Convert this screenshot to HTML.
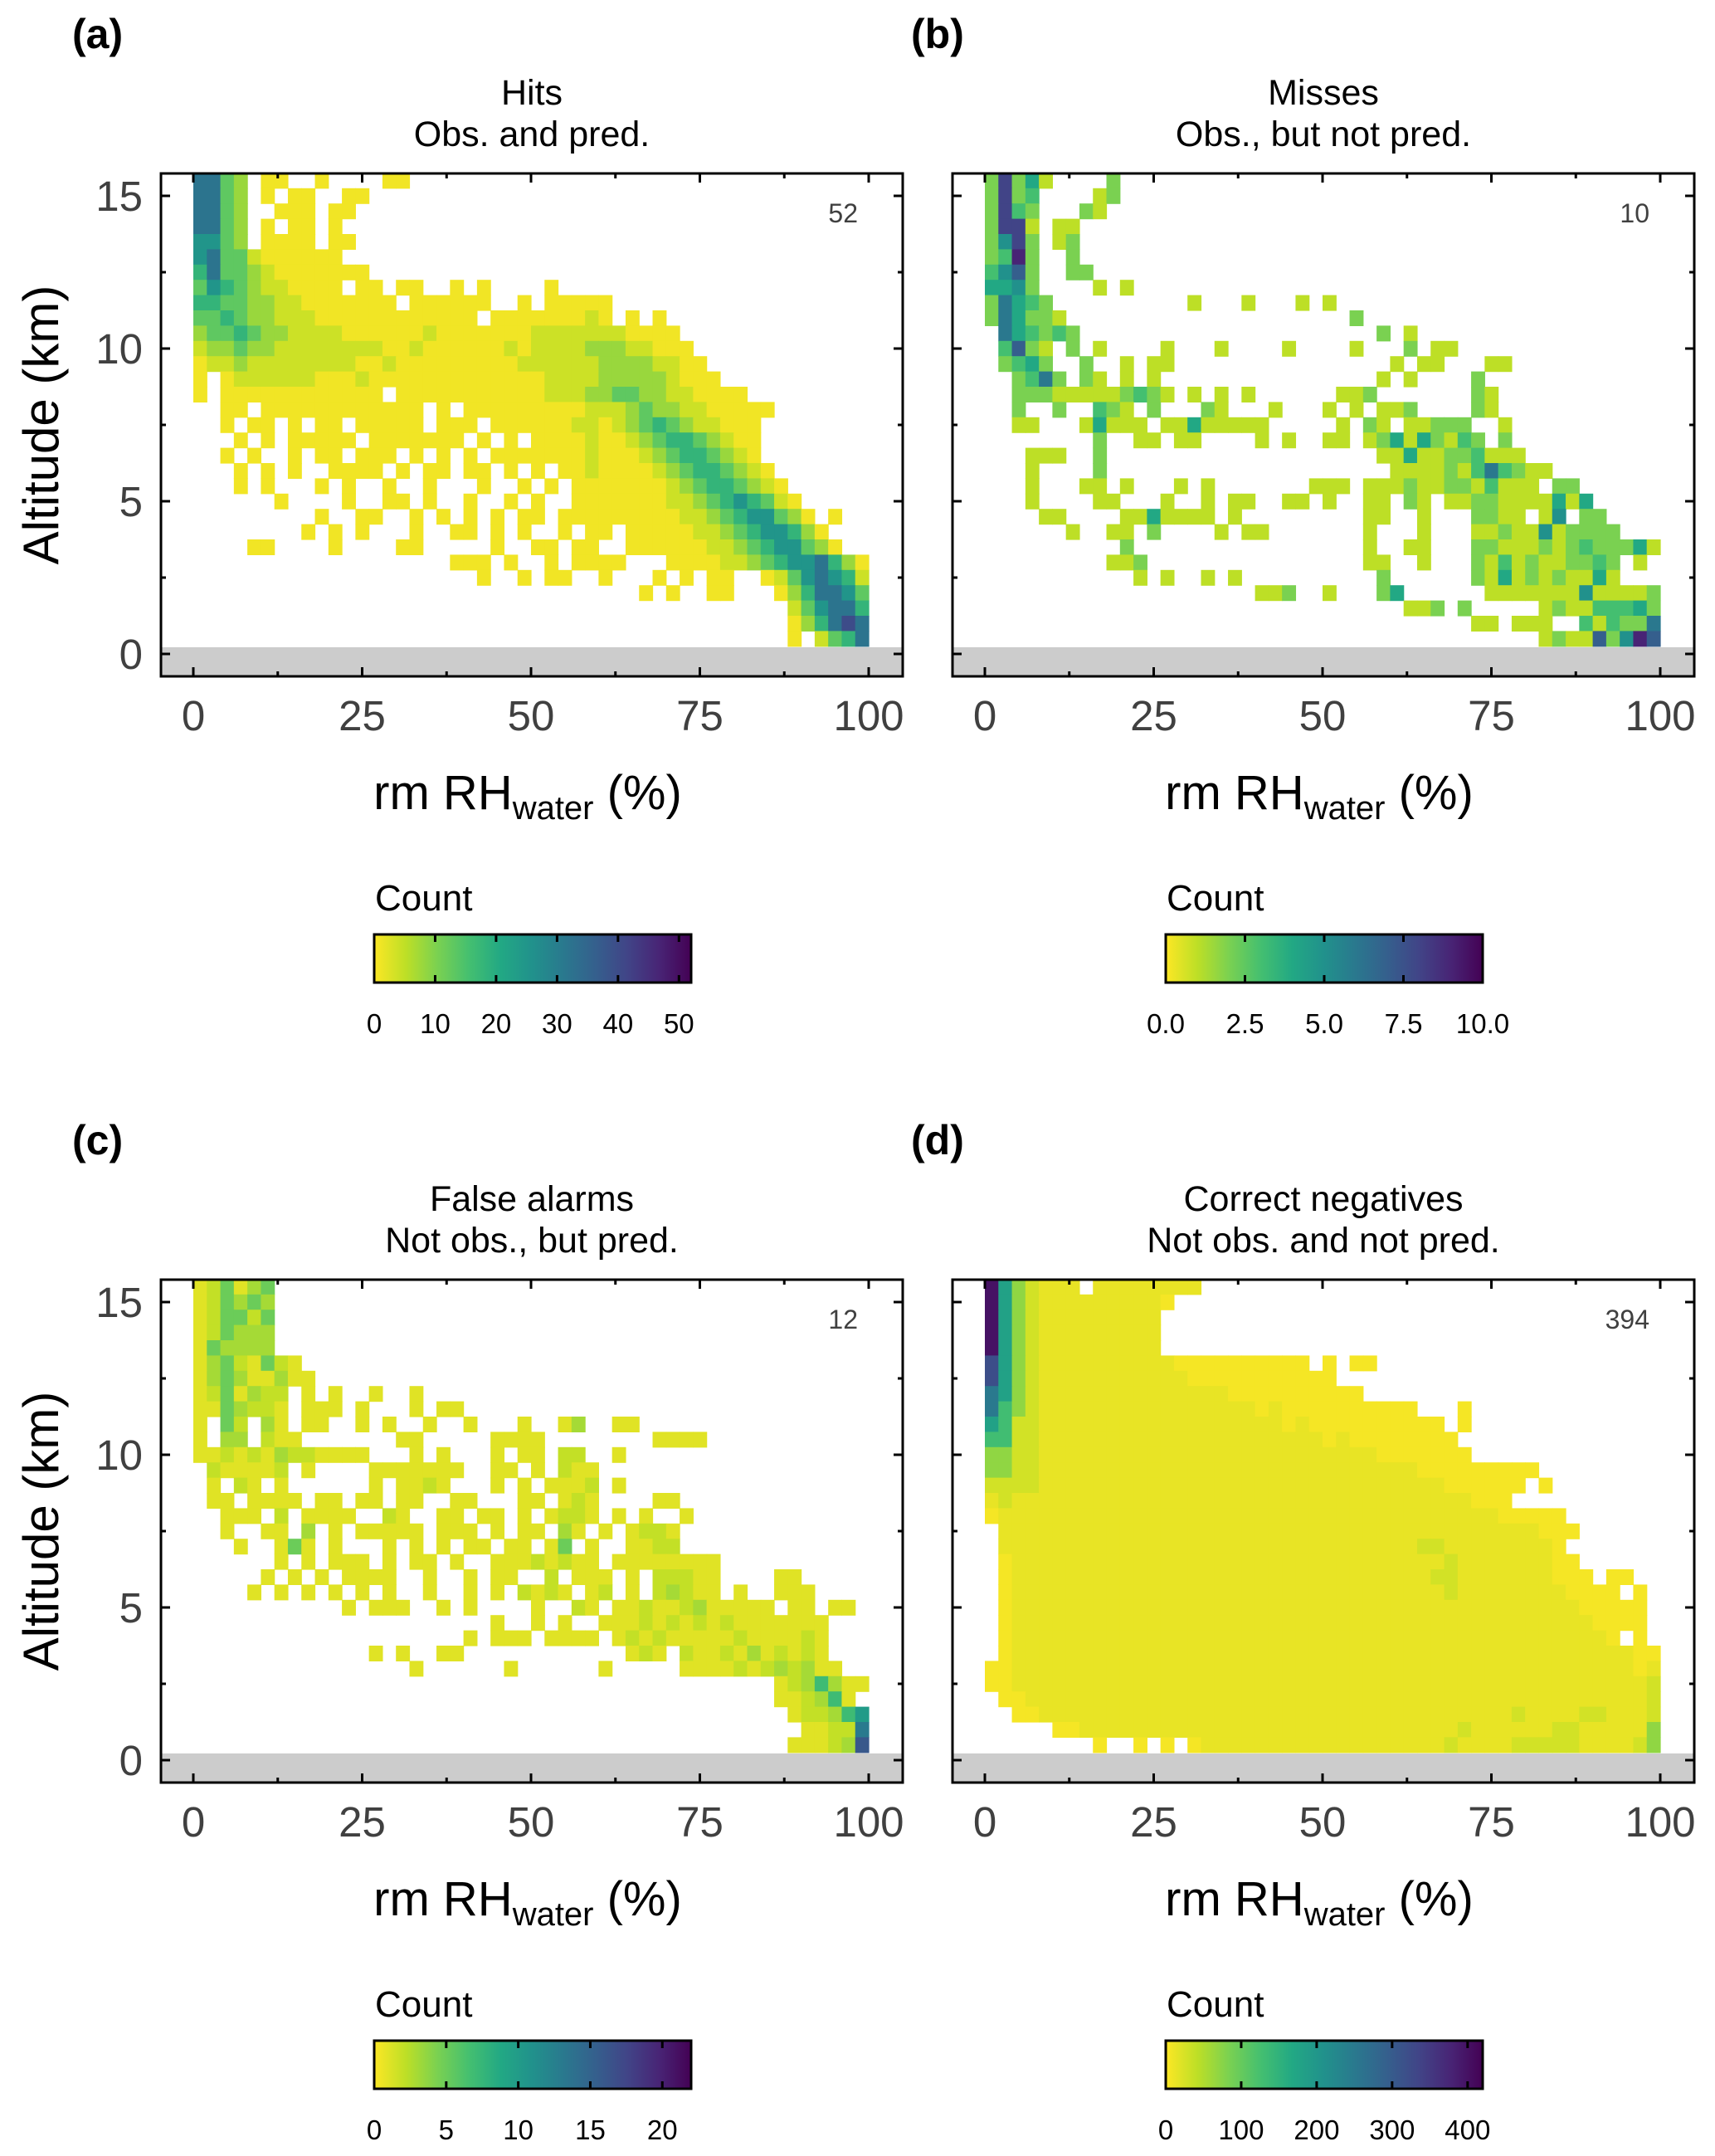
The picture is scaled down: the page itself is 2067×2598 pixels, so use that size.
<!DOCTYPE html>
<html><head><meta charset="utf-8"><title>Contingency heatmaps</title>
<style>
html,body{margin:0;padding:0;background:#fff;}
svg{display:block;font-family:"Liberation Sans",Arial,sans-serif;}
</style></head>
<body>
<svg id="fig" xmlns="http://www.w3.org/2000/svg" width="2067" height="2598" viewBox="0 0 2067 2598">
<defs>
<linearGradient id="vir" x1="0" x2="1" y1="0" y2="0">
<stop offset="0" stop-color="#fde725"/><stop offset="0.1" stop-color="#bddf26"/><stop offset="0.2" stop-color="#7ad151"/><stop offset="0.3" stop-color="#44bf70"/><stop offset="0.4" stop-color="#22a884"/><stop offset="0.5" stop-color="#21918c"/><stop offset="0.6" stop-color="#2a788e"/><stop offset="0.7" stop-color="#355f8d"/><stop offset="0.8" stop-color="#414487"/><stop offset="0.9" stop-color="#482475"/><stop offset="1" stop-color="#440154"/>
</linearGradient>
</defs>
</svg>
<script>
// ---- data (rows: top = 15.25-15.75 km, 0.5 km each; columns: 2% RH bins 0..98) ----
const rowsA = [
"7743.11..1 ....11","7743.1.11. .11","7743..111. 11","7743.1.11. 1","6643.1111. 11",
"6744211111 1","5744321111 111","4654322111 1.11.11..1 .1....1",
"5544332211 11111.1111 11..1.1111 1","4454332221 1111111111 1.11111112 1.1.1",
"3445433222 2111111211 1111122222 221111","2334332222 2222112111 1112122223 3322111",
"1223222222 2211211111 1111222222 33332211","1.12222221 1121111111 1111112222 333332111",
"1.11111111 1111.11111 1111112223 3443322111 1","..11.111111 111111.1.1 1111111122 2343322111 11",
"..1.11.1.1 1.11111.11 1.11111122 1234543221 11","...1.1.111 11.1111111 .1.1.11112 1123455432 11",
"..1.1..1.1 1.111.1.1. 1.11111112 1112345543 21","...1.1.1.. 1111.1.11. 11.1.1.112 1111234554 321",
"...1.1...1 .1..1..1.. .1..1.1.11 1111123455 4321","......1... .1..11.1.. 1..1.1..11 1111122345 65421",
".........1 ..11..1.1. 1.1.11.111 1111112234 566431.1","........1. 1.1...1..1 1.1.1..1.1 1.11111223 4566531",
"....11.... 1....11... ..1..11.11 ..11111122 34566431",".......... .........1 11.1..1.11 11...11112 2345667531",
".......... .......... .1..1.11.. 1...1.1.11 ..12467652",".......... .......... .......... ...1.1..11 ...1357764",
".......... .......... .......... .......... ....246775",".......... .......... .......... .......... ....135787",
".......... .......... .......... .......... ....1.2457"];
const levelsA = [0,1,4,8,13,18,25,32,40,46];

const rowsB = [
"28241....2","2823....12","2832...21.","2881.11...","2582.12...","2392..2...","3572..22..",
"4452....1. 1","26432..... .....1...1 ...1.1","264221.... .......... .......2",
".643232... .......... .........2 .1",".3721.2.1. ...1...1.. ..1....1.. .2.11",
".2342..2.. 1.11...... .......... 1.11...11","..2362.21. 1.1....... .........1 .1....2",
"..22211111 2321.1.1.1 ......112. ......21","..2..2..32 1.2...21.. .1...1.1.1 12....21",
"..11...141 11.1141111 1.....1.21 .11222..1","........2. .11.11.... 1.1..11.12 4142132.2",
"...111..2. .......... .........1 1411223111","...1....2. .......... .......... 1111213632 11",
"...1...11. 1...1.1... ....111.11 1211221311 1.22","...1....11 ...1..1.11 ..11.1..11 .21.112211 11414",
"....11.... 1141111.1. ........11 ..1...2211 .15.22","......1..1 1.2....1.1 1.......1. ..1...1121 1512222",
".......... 2......... ........1. .11...2211 1212322241",".........1 12........ ........11 ..1...2131 2112232.1.",
".......... .1.1..1.1. .........2 ......2141 2121141",".......... .......... 112..1...2 4......111 1111511112",
".......... .......... .......... .112.2.... .121133342",".......... .......... .......... ......11.1 11..313226",
".......... .......... .......... .......... .121172597"];
const levelsB = [0,1,2,3,4,5,6,7,8,9];

const rowsC = [
"124134","124343","124424","124333","143333","13421421","134311311",
"1241322.1. 1..1..1","1143221.11 1.1...1.11","1.42.31.11 ..1.1..1.. 1...1..13. .11",
"1.33.211.. .....11... ..1111.... ....1111","1121213221 111...1.1. ..1.11.22. .1",
".211112.1. ...1111111 ..11.1.211",".1.21.1... ...1.1121. ..1.1.1112 .1",
".11.1111.1 1.11.11..1 1...11.121 ....11","..111.2.11 11..21..11 .11.1.1221 .1.1..1",
"..1..11.3. 1.11111.11 1.1.11.31. 1.1221","...1..141. 1...1.1.1. 11.11.14.1 ..1122",
"......1.1. 111.1.11.1 ..11121211 .11111111",".....1.1.1 .1111..1.. 1.11..2.11 1.1.22211. ...11",
"....1.1.1. 1.1.1..1.. 1.1.2121.1 2.1.23211. 1..111",".......... .1.111..1. 1....1..21 .112112311 111.11.11",
".......... .......... ..1..1.1.. 1112121212 1111111",".......... .......... 1.111.1111 .121211111 2111121",
".......... ...1.1..11 .......... ..121.2112 1312121",".......... ......1... ...1...... 1.....1111 21232311",
".......... .......... .......... .......... ...1235311",".......... .......... .......... .......... ...112351.",
".......... .......... .......... .......... ....122356",".......... .......... .......... .......... .....11227",
".......... .......... .......... .......... ....111238"];
const levelsC = [0,1,2,3,5,7,10,13,16,19];

const rowsD = [
"9643222.22 222222","9643222222 2221","9643222222 222","9643222222 222","9643222222 222",
"8643222222 2222111111 1111.1.11.","8643222222 2222211111 111111","7643222222 2222222211 11111111",
"7543222222 2222222222 1211111111 11...1","6533222222 2222222222 2212111111 1111.1",
"5533222222 2222222222 2222212111 11111","4433222222 2222222222 2222222221 111111",
"4433222222 2222222222 2222222222 2211111111 1","3333222222 2222222222 2222222222 2222111111 .1",
"2322222222 2222222222 2222222222 222222111.","1222222222 2222222222 2222222222 2222222211 111",
".222222222 2222222222 2222222222 2222222222 2111",".222222222 2222222222 2222222222 2233222222 221",
".122222222 2222222222 2222222222 2222322222 2211",".122222222 2222222222 2222222222 2223322222 22111.11",
".122222222 2222222222 2222222222 2222322222 2221111.1",".122222222 2222222222 2222222222 2222222222 222211111",
".122222222 2222222222 2222222222 2222222222 222221111",".122222222 2222222222 2222222222 2222222222 2222221.1",
".122222222 2222222222 2222222222 2222222222 2222222211","1122222222 2222222222 2222222222 2222222222 2222222212",
"1122222222 2222222222 2222222222 2222222222 2222222223",".112222222 2222222222 2222222222 2222222222 2222222223",
"..11222222 2222222222 2222222222 2222222223 2222332223",".....11222 2222222222 2222222222 2222232222 2233222224",
"........1. .1.1.12222 2222222222 2222322223 3333222234"];
const levelsD = [0,5,14,28,70,130,180,250,320,400];

const xTickLabels = ["0","25","50","75","100"];
const xTickValues = [0,25,50,75,100];
const yTickLabels = ["0","5","10","15"];
const yTickValues = [0,5,10,15];
const cbMaxA = 52, cbMaxB = 10, cbMaxC = 22, cbMaxD = 420;
const cbTicksA = [0,10,20,30,40,50];
const cbTicksB = [0,2.5,5,7.5,10];
const cbTicksC = [0,5,10,15,20];
const cbTicksD = [0,100,200,300,400];
const cbLabelsA = ["0","10","20","30","40","50"];
const cbLabelsB = ["0.0","2.5","5.0","7.5","10.0"];
const cbLabelsC = ["0","5","10","15","20"];
const cbLabelsD = ["0","100","200","300","400"];
const maxLabels = ["52","10","12","394"];

// ---- rendering ----
const NS = "http://www.w3.org/2000/svg";
const svg = document.getElementById("fig");
const VIR = ["#440154","#482475","#414487","#355f8d","#2a788e","#21918c","#22a884","#44bf70","#7ad151","#bddf26","#fde725"];
function hex(c){return [parseInt(c.slice(1,3),16),parseInt(c.slice(3,5),16),parseInt(c.slice(5,7),16)];}
function viridis(t){
  t = Math.max(0, Math.min(1, t));
  const p = t*10, i = Math.min(9, Math.floor(p)), f = p - i;
  const a = hex(VIR[i]), b = hex(VIR[i+1]);
  return "rgb(" + a.map((v,k)=>Math.round(v+(b[k]-v)*f)).join(",") + ")";
}
function mk(tag, attrs, parent){
  const e = document.createElementNS(NS, tag);
  for (const k in attrs) e.setAttribute(k, attrs[k]);
  (parent||svg).appendChild(e);
  return e;
}

const panels = [
 {ox:0, oy:0, lab:"(a)", labx:87, t1:"Hits", t2:"Obs. and pred.", rows:rowsA, lev:levelsA, max:cbMaxA, cbt:cbTicksA, cbl:cbLabelsA, key:"a", yax:true},
 {ox:954, oy:0, lab:"(b)", labx:1098, t1:"Misses", t2:"Obs., but not pred.", rows:rowsB, lev:levelsB, max:cbMaxB, cbt:cbTicksB, cbl:cbLabelsB, key:"b", yax:false},
 {ox:0, oy:1333, lab:"(c)", labx:87, t1:"False alarms", t2:"Not obs., but pred.", rows:rowsC, lev:levelsC, max:cbMaxC, cbt:cbTicksC, cbl:cbLabelsC, key:"c", yax:true},
 {ox:954, oy:1333, lab:"(d)", labx:1098, t1:"Correct negatives", t2:"Not obs. and not pred.", rows:rowsD, lev:levelsD, max:cbMaxD, cbt:cbTicksD, cbl:cbLabelsD, key:"d", yax:false}
];

panels.forEach((P, pi) => {
  const g = mk("g", {});
  
  
  const L = 194+P.ox, R = 1088+P.ox, T = 209+P.oy, B = 815+P.oy;
  const xS = v => P.ox + 233 + 8.14*v;
  const yS = v => P.oy + 788 - 36.8*v;

  const pl = mk("text", {x:P.labx, y:58+P.oy, "font-size":50, "font-weight":"bold", fill:"#000"}, g);
  pl.textContent = P.lab;
  
  

  const cx = (L+R)/2;
  const t1 = mk("text", {x:cx, y:126+P.oy, "font-size":43, "text-anchor":"middle", fill:"#000"}, g);
  t1.textContent = P.t1;
  
  
  const t2 = mk("text", {x:cx, y:176+P.oy, "font-size":43, "text-anchor":"middle", fill:"#000"}, g);
  t2.textContent = P.t2;
  
  

  const band = mk("rect", {x:L, y:yS(0.22), width:R-L, height:B-yS(0.22), fill:"#cccccc"}, g);
  
  

  const hm = mk("g", {}, g);
  
  
  P.rows.forEach((rs, ri) => {
    const s = rs.replace(/ /g, "");
    const top = 15.75 - 0.5*ri, bot = top - 0.5;
    for (let j = 0; j < Math.min(50, s.length); j++) {
      const ch = s[j];
      if (ch === ".") continue;
      const cnt = P.lev[+ch];
      const x0 = xS(2*j), x1 = xS(2*j+2);
      const c = mk("rect", {x:x0.toFixed(2), y:yS(top).toFixed(2), width:(x1-x0+0.6).toFixed(2), height:(yS(bot)-yS(top)+0.6).toFixed(2), fill:viridis(1 - cnt/P.max)}, hm);
      
      
    }
  });

  const fr = mk("rect", {x:L, y:T, width:R-L, height:B-T, fill:"none", stroke:"#000", "stroke-width":3}, g);
  
  

  for (let v = 0; v <= 100; v += 12.5) {
    const len = (v % 25 === 0) ? 11 : 6;
    const x = xS(v);
    const tb = mk("line", {x1:x, x2:x, y1:B, y2:B-len, stroke:"#000", "stroke-width":3}, g);
    
    
    const tt = mk("line", {x1:x, x2:x, y1:T, y2:T+len, stroke:"#000", "stroke-width":3}, g);
    
    
  }
  for (let v = 0; v <= 15; v += 2.5) {
    const len = (v % 5 === 0) ? 11 : 6;
    const y = yS(v);
    const tl = mk("line", {x1:L, x2:L+len, y1:y, y2:y, stroke:"#000", "stroke-width":3}, g);
    
    
    const tr = mk("line", {x1:R, x2:R-len, y1:y, y2:y, stroke:"#000", "stroke-width":3}, g);
    
    
  }
  xTickValues.forEach((v, i) => {
    const t = mk("text", {x:xS(v), y:880+P.oy, "font-size":51, "text-anchor":"middle", fill:"#404040"}, g);
    t.textContent = xTickLabels[i];
    
    
  });
  if (P.yax) {
    yTickValues.forEach((v, i) => {
      const t = mk("text", {x:172+P.ox, y:yS(v)+18, "font-size":51, "text-anchor":"end", fill:"#404040"}, g);
      t.textContent = yTickLabels[i];
      
      
    });
    const yt = mk("text", {x:0, y:0, "font-size":60, "text-anchor":"middle", fill:"#000", transform:"translate(" + (70+P.ox) + "," + (512+P.oy) + ") rotate(-90)"}, g);
    yt.textContent = "Altitude (km)";
    
    
  }

  const xt = mk("text", {x:cx-5, y:975+P.oy, "font-size":58, "text-anchor":"middle", fill:"#000"}, g);
  
  
  const s1 = mk("tspan", {}, xt); s1.textContent = "rm RH";
  const s2 = mk("tspan", {"font-size":40, dy:12}, xt); s2.textContent = "water";
  const s3 = mk("tspan", {dy:-12}, xt); s3.textContent = " (%)";

  const mx = mk("text", {x:1034+P.ox, y:268+P.oy, "font-size":32, "text-anchor":"end", fill:"#404040"}, g);
  mx.textContent = maxLabels[pi];
  
  

  const cbL = 451+P.ox, cbR = 833+P.ox, cbT = 1126+P.oy, cbB = 1184+P.oy;
  const ct = mk("text", {x:452+P.ox, y:1097+P.oy, "font-size":44, fill:"#000"}, g);
  ct.textContent = "Count";
  
  
  const cb = mk("rect", {x:cbL, y:cbT, width:cbR-cbL, height:cbB-cbT, fill:"url(#vir)", stroke:"#000", "stroke-width":3}, g);
  
  
  const cS = v => cbL + (cbR-cbL)*v/P.max;
  P.cbt.forEach((v, i) => {
    const x = cS(v);
    if (v > 0 && v < P.max) {
      const a = mk("line", {x1:x, x2:x, y1:cbT, y2:cbT+9, stroke:"#000", "stroke-width":3}, g);
      
      
      const b = mk("line", {x1:x, x2:x, y1:cbB, y2:cbB-9, stroke:"#000", "stroke-width":3}, g);
      
      
    }
    const t = mk("text", {x:x, y:1245+P.oy, "font-size":33, "text-anchor":"middle", fill:"#000"}, g);
    t.textContent = P.cbl[i];
    
    
  });
});
</script>
</body></html>
